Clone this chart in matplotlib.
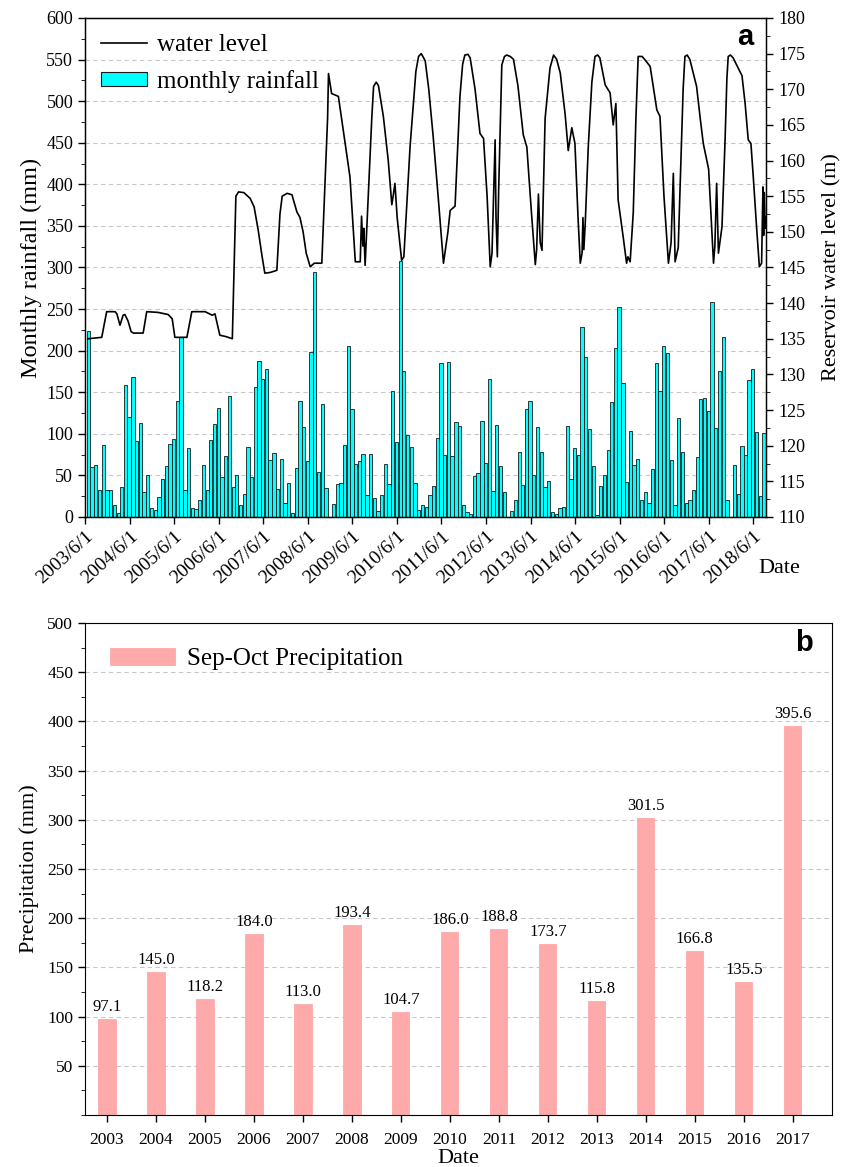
import numpy as np
import pandas as pd
import matplotlib
matplotlib.use('Agg')
import matplotlib.pyplot as plt
from matplotlib.ticker import MultipleLocator, FixedLocator
from matplotlib.lines import Line2D
from matplotlib.patches import Patch

plt.rcParams['font.family'] = ['Liberation Serif', 'DejaVu Serif']

# ---------------- data ----------------
rain_first_month = '2003-06-01'
monthly_rain = [
    224, 60, 63, 32, 86, 32, 33, 14, 5, 36, 159, 120,
    168, 91, 113, 30, 51, 11, 8, 24, 46, 61, 88, 94,
    139, 216, 33, 83, 11, 10, 20, 63, 33, 93, 112, 131,
    48, 73, 146, 36, 51, 15, 28, 84, 48, 156, 188, 166,
    178, 68, 77, 34, 70, 17, 41, 5, 59, 139, 108, 67,
    198, 294, 54, 136, 35, 0, 16, 40, 41, 87, 205, 130,
    64, 67, 76, 27, 76, 23, 7, 26, 64, 40, 152, 90,
    308, 176, 99, 84, 41, 8, 14, 12, 26, 37, 95, 185,
    74, 186, 73, 114, 109, 15, 6, 4, 49, 53, 115, 65,
    166, 31, 111, 61, 30, 0, 7, 21, 78, 39, 130, 139,
    51, 108, 78, 36, 43, 6, 4, 11, 12, 109, 46, 83,
    74, 228, 192, 106, 61, 2, 37, 51, 80, 138, 203, 253,
    161, 42, 103, 62, 70, 20, 30, 17, 58, 185, 152, 205,
    197, 69, 14, 119, 78, 17, 20, 33, 72, 142, 143, 128,
    258, 107, 176, 217, 21, 0, 62, 28, 85, 74, 165, 178,
    102, 25, 101,
]

wl_year = [
    2003.48, 2003.79, 2003.90, 2004.09, 2004.13, 2004.20, 2004.27, 2004.31, 2004.38, 2004.45,
    2004.50, 2004.72, 2004.80, 2005.05, 2005.28, 2005.37, 2005.43, 2005.70, 2005.81, 2006.11,
    2006.27, 2006.33, 2006.44, 2006.58, 2006.72, 2006.80, 2006.86, 2006.98, 2007.12, 2007.21,
    2007.30, 2007.39, 2007.45, 2007.57, 2007.72, 2007.79, 2007.84, 2007.95, 2008.06, 2008.17,
    2008.24, 2008.31, 2008.38, 2008.47, 2008.56, 2008.73, 2008.86, 2008.88, 2008.95, 2009.10,
    2009.18, 2009.25, 2009.36, 2009.48, 2009.59, 2009.62, 2009.65, 2009.67, 2009.70, 2009.85,
    2009.89, 2009.95, 2010.00, 2010.11, 2010.22, 2010.30, 2010.33, 2010.37, 2010.42, 2010.52,
    2010.57, 2010.71, 2010.84, 2010.90, 2010.96, 2011.05, 2011.13, 2011.23, 2011.34, 2011.46,
    2011.56, 2011.61, 2011.72, 2011.83, 2011.89, 2011.94, 2012.01, 2012.06, 2012.17, 2012.28,
    2012.36, 2012.44, 2012.51, 2012.55, 2012.59, 2012.62, 2012.64, 2012.67, 2012.70, 2012.77,
    2012.83, 2012.88, 2012.96, 2013.03, 2013.13, 2013.25, 2013.33, 2013.43, 2013.52, 2013.55,
    2013.59, 2013.63, 2013.67, 2013.74, 2013.85, 2013.93, 2014.00, 2014.08, 2014.19, 2014.26,
    2014.34, 2014.41, 2014.48, 2014.53, 2014.57, 2014.59, 2014.61, 2014.64, 2014.71, 2014.79,
    2014.86, 2014.92, 2014.97, 2015.09, 2015.20, 2015.27, 2015.33, 2015.38, 2015.50, 2015.57,
    2015.60, 2015.65, 2015.72, 2015.78, 2015.83, 2015.92, 2016.00, 2016.10, 2016.25, 2016.32,
    2016.41, 2016.51, 2016.57, 2016.62, 2016.66, 2016.73, 2016.79, 2016.84, 2016.88, 2016.93,
    2016.99, 2017.14, 2017.22, 2017.29, 2017.41, 2017.52, 2017.55, 2017.59, 2017.63, 2017.71,
    2017.78, 2017.82, 2017.85, 2017.90, 2017.96, 2018.16, 2018.23, 2018.30, 2018.36, 2018.41,
    2018.49, 2018.55, 2018.60, 2018.63, 2018.645, 2018.66, 2018.68, 2018.69,
]
wl_level = [
    135.0, 135.2, 138.8, 138.8, 138.5, 136.9, 138.3, 138.4, 137.5, 136.0,
    135.8, 135.8, 138.8, 138.7, 138.4, 137.8, 135.2, 135.2, 138.8, 138.8,
    138.3, 138.5, 135.5, 135.3, 135.0, 155.0, 155.6, 155.5, 154.7, 153.5,
    150.3, 146.5, 144.2, 144.3, 144.6, 152.5, 155.0, 155.4, 155.2, 152.8,
    152.0, 150.0, 147.0, 145.1, 145.6, 145.6, 166.0, 172.2, 169.4, 169.0,
    165.5, 162.4, 157.7, 145.8, 145.8, 152.2, 148.0, 150.5, 145.3, 166.0,
    170.4, 171.0, 170.5, 166.2, 160.0, 153.8, 155.0, 156.8, 152.0, 146.0,
    146.5, 162.0, 172.5, 174.6, 175.0, 174.0, 170.0, 163.3, 155.0, 145.6,
    150.0, 153.0, 153.6, 169.0, 173.5, 174.8, 174.9, 174.4, 170.0, 163.8,
    163.1, 155.0, 145.1, 147.0, 156.0, 162.9, 152.0, 146.5, 156.0, 173.4,
    174.6, 174.8, 174.6, 174.2, 170.5, 163.6, 161.9, 153.0, 145.4, 147.5,
    155.3, 148.5, 147.4, 165.9, 173.0, 174.8, 174.2, 172.3, 166.5, 161.4,
    164.6, 162.4, 152.0, 145.6, 147.0, 152.0, 147.5, 151.0, 162.0, 171.0,
    174.6, 174.8, 174.4, 170.6, 169.5, 165.0, 168.0, 154.5, 149.0, 145.6,
    146.5, 145.8, 152.7, 166.0, 174.6, 174.6, 174.0, 173.2, 167.1, 166.2,
    155.0, 145.6, 148.5, 158.2, 145.8, 147.8, 160.0, 170.0, 174.6, 174.8,
    174.2, 170.4, 166.0, 162.4, 158.8, 145.6, 148.0, 156.8, 147.0, 150.7,
    163.0, 171.5, 174.6, 174.8, 174.4, 171.9, 168.0, 162.9, 162.4, 158.0,
    150.4, 145.1, 145.6, 156.3, 149.5, 155.5, 150.5, 152.0,
]

years = list(range(2003, 2018))
sep_oct_precip = [97.1, 145.0, 118.2, 184.0, 113.0, 193.4, 104.7, 186.0,
                  188.8, 173.7, 115.8, 301.5, 166.8, 135.5, 395.6]

tick_years = list(range(2003, 2019))


def dec_to_date(t):
    y = int(t)
    return pd.Timestamp(y, 1, 1) + pd.Timedelta(days=(t - y) * 365.25)


# ---------------- figure ----------------
fig = plt.figure(figsize=(8.54, 11.67), dpi=100)

# ---- panel a ----
ax = fig.add_axes([0.0995, 0.557, 0.798, 0.4276])
bar_dates = pd.date_range(rain_first_month, periods=len(monthly_rain), freq='MS') + pd.Timedelta(days=27)
ax.bar(bar_dates, monthly_rain, width=27, color='#00FFFF', edgecolor='#1a1a1a',
       linewidth=0.6, zorder=2)
ax.set_ylim(0, 600)
ax.yaxis.set_major_locator(MultipleLocator(50))
ax.yaxis.set_minor_locator(MultipleLocator(25))
ax.grid(axis='y', which='major', linestyle=(0, (4, 3)), color='#c8c8c8', linewidth=0.8, zorder=0)
ax.set_axisbelow(True)
xl = (pd.Timestamp('2003-06-01'), pd.Timestamp('2018-09-17'))
ax.set_xlim(*xl)
tick_dates = [pd.Timestamp(y, 6, 1) for y in tick_years]
ax.set_xticks(tick_dates)
ax.set_xticklabels([f'{y}/6/1' for y in tick_years], rotation=42, ha='right',
                   rotation_mode='anchor')
ax.tick_params(axis='both', direction='out', labelsize=13, length=5, width=1)
ax.tick_params(axis='x', labelsize=14, pad=3)
ax.tick_params(axis='y', which='minor', direction='out', length=3)
ax.set_ylabel('Monthly rainfall (mm)', fontsize=17.5, labelpad=3)
for sp in ax.spines.values():
    sp.set_linewidth(1.0)

ax2 = ax.twinx()
wl_dates = [dec_to_date(t) for t in wl_year]
ax2.plot(wl_dates, wl_level, color='black', linewidth=1.2, zorder=3)
ax2.set_ylim(110, 180)
ax2.yaxis.set_major_locator(MultipleLocator(5))
ax2.yaxis.set_minor_locator(MultipleLocator(2.5))
ax2.tick_params(axis='y', direction='out', labelsize=13, length=5, width=1)
ax2.tick_params(axis='y', which='minor', direction='out', length=3)
ax2.set_ylabel('Reservoir water level (m)', fontsize=16, labelpad=12)
ax2.set_xlim(*xl)

handles = [Line2D([0], [0], color='black', linewidth=1.2),
           Patch(facecolor='#00FFFF', edgecolor='#1a1a1a', linewidth=0.8)]
ax2.legend(handles, ['water level', 'monthly rainfall'], loc='upper left',
           frameon=False, fontsize=18, handlelength=1.85, handleheight=0.45,
           borderaxespad=0.25, labelspacing=0.55, handletextpad=0.4)

fig.text(0.873, 0.968, 'a', fontsize=21, fontweight='bold', family='Liberation Sans',
         ha='center', va='center')
fig.text(0.913, 0.513, 'Date', fontsize=16, ha='center', va='center')

# ---- panel b ----
bx = fig.add_axes([0.0995, 0.0446, 0.8747, 0.4216])
bx.bar(years, sep_oct_precip, width=0.35, color='#FFAAAA', edgecolor='#FFA0A0',
       linewidth=0.5, zorder=2, label='Sep-Oct Precipitation')
for x, v in zip(years, sep_oct_precip):
    bx.text(x, v + 4, f'{v:.1f}', ha='center', va='bottom', fontsize=12)
bx.set_xlim(2002.55, 2017.8)
bx.set_ylim(0, 500)
bx.set_xticks(years)
bx.set_xticklabels([str(y) for y in years])
bx.yaxis.set_major_locator(FixedLocator(list(range(50, 501, 50))))
bx.yaxis.set_minor_locator(MultipleLocator(25))
bx.grid(axis='y', which='major', linestyle=(0, (4, 3)), color='#c8c8c8', linewidth=0.8, zorder=0)
bx.set_axisbelow(True)
bx.tick_params(axis='both', direction='out', labelsize=12.5, length=5, width=1)
bx.tick_params(axis='x', pad=7)
bx.tick_params(axis='y', which='minor', direction='out', length=3)
bx.set_ylabel('Precipitation (mm)', fontsize=16, labelpad=6)
bx.set_xlabel('Date', fontsize=16, labelpad=1)
bx.legend(loc='upper left', frameon=False, fontsize=18, handlelength=2.6,
          borderaxespad=0.6, handletextpad=0.5)
fig.text(0.941, 0.449, 'b', fontsize=21, fontweight='bold', family='Liberation Sans',
         ha='center', va='center')

fig.savefig('out.png', dpi=100)
